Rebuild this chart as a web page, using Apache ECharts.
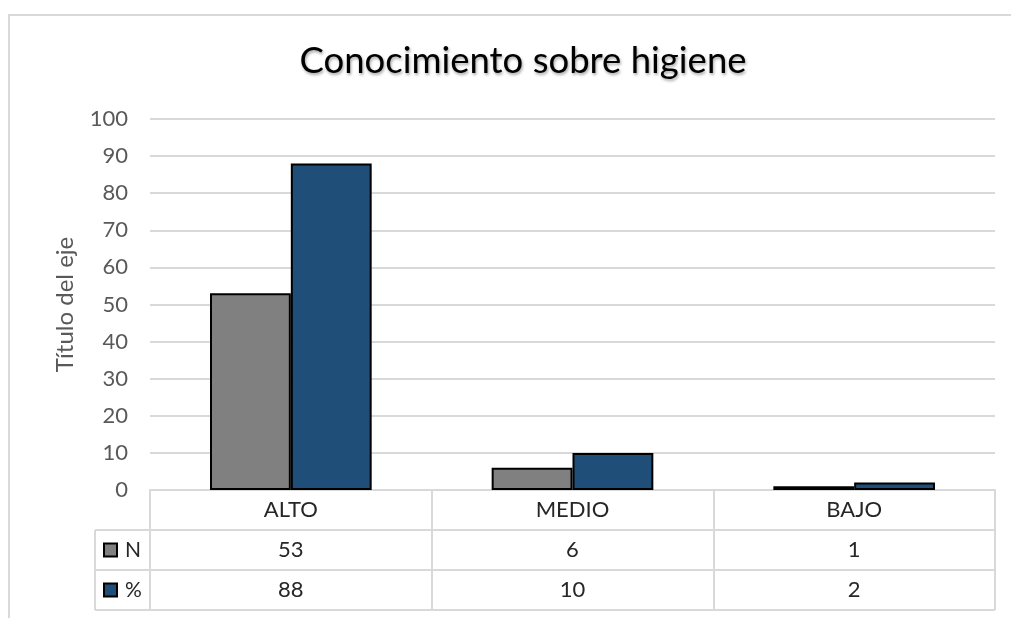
<!DOCTYPE html>
<html>
<head>
<meta charset="utf-8">
<script src="https://cdn.jsdelivr.net/npm/echarts@6/dist/echarts.min.js"></script>
<style>
  html, body { margin: 0; padding: 0; background: #fff; }
  #chart { width: 1011px; height: 618px; }
</style>
</head>
<body>
<div id="chart"></div>
<script>
// Nivel de conocimiento sobre higiene
const categories = ['ALTO', 'MEDIO', 'BAJO'];
const seriesN = [53, 6, 1];
const seriesPct = [88, 10, 2];
const yTicks = { min: 0, max: 100, interval: 10 };

const FONT = 'Lato, "Open Sans", sans-serif';
const GRID = { left: 150, right: 16, top: 119, bottom: 128 };
const ROW_H = 40;
const TABLE_LEFT = 95;
const LINE_COLOR = '#d9d9d9';
const TEXT_COLOR = '#262626';
const AXIS_TEXT = '#595959';

const chart = echarts.init(document.getElementById('chart'), null, { renderer: 'canvas' });

const tableLabel = { color: TEXT_COLOR, fontSize: 22, fontFamily: FONT, margin: 20, verticalAlign: 'middle' };

function tableAxis(data, offset) {
  return {
    type: 'category',
    data: data,
    position: 'bottom',
    offset: offset,
    axisLine: { show: false },
    axisTick: { show: false },
    axisLabel: tableLabel
  };
}

// One legend key per table row, in the row header column
function rowLegend(name, centerY) {
  return {
    data: [name],
    orient: 'horizontal',
    left: 103,
    top: centerY - 11,
    padding: 0,
    itemWidth: 13,
    itemHeight: 13,
    icon: 'rect',
    textStyle: { fontFamily: FONT, fontSize: 21, color: TEXT_COLOR, lineHeight: 22, padding: [0, 0, 0, 3] },
    selectedMode: false
  };
}

const option = {
  backgroundColor: '#fff',
  animation: false,
  title: {
    text: 'Conocimiento sobre higiene',
    left: 518,
    textAlign: 'center',
    top: 38,
    textStyle: {
      fontFamily: FONT, fontSize: 36.5, fontWeight: 'normal', color: '#000',
      textShadowColor: 'rgba(0,0,0,0.35)', textShadowBlur: 3, textShadowOffsetX: 1, textShadowOffsetY: 2
    }
  },
  legend: [
    rowLegend('N', 550),
    rowLegend('%', 590)
  ],
  grid: GRID,
  xAxis: [
    {
      type: 'category',
      data: categories,
      position: 'bottom',
      axisLine: { show: true, lineStyle: { color: LINE_COLOR, width: 2 } },
      axisTick: { show: true, length: ROW_H * 3, alignWithLabel: false, lineStyle: { color: LINE_COLOR, width: 2 } },
      axisLabel: tableLabel
    },
    tableAxis(seriesN.map(String), ROW_H),
    tableAxis(seriesPct.map(String), ROW_H * 2)
  ],
  yAxis: {
    type: 'value',
    min: yTicks.min,
    max: yTicks.max,
    interval: yTicks.interval,
    name: 'Título del eje',
    nameLocation: 'middle',
    nameGap: 73,
    nameTextStyle: { color: AXIS_TEXT, fontSize: 24, fontFamily: FONT },
    axisLine: { show: false },
    axisTick: { show: false },
    axisLabel: { color: AXIS_TEXT, fontSize: 22, fontFamily: FONT, margin: 22 },
    splitLine: { lineStyle: { color: LINE_COLOR, width: 2 } }
  },
  series: [
    {
      name: 'N',
      type: 'bar',
      data: seriesN,
      barGap: '0%',
      barCategoryGap: '42.6%',
      itemStyle: { color: '#808080', borderColor: '#000', borderWidth: 2 }
    },
    {
      name: '%',
      type: 'bar',
      data: seriesPct,
      itemStyle: { color: '#1f4e79', borderColor: '#000', borderWidth: 2 }
    }
  ]
};

chart.setOption(option);

// Outer frame (top and left edges) and the table's row rules and legend column border
function drawTableFrame() {
  const w = chart.getWidth();
  const h = chart.getHeight();
  const base = h - GRID.bottom;
  const right = w - GRID.right;
  const line = (x1, y1, x2, y2) => ({
    type: 'line',
    shape: { x1: x1, y1: y1, x2: x2, y2: y2 },
    style: { stroke: LINE_COLOR, lineWidth: 2 },
    silent: true
  });
  const elements = [line(8, 15, w, 15), line(9, 15, 9, h)];
  for (let r = 1; r <= 3; r++) {
    const y = base + ROW_H * r;
    elements.push(line(TABLE_LEFT, y, right, y));
  }
  elements.push(line(TABLE_LEFT, base + ROW_H, TABLE_LEFT, base + ROW_H * 3));
  chart.setOption({ graphic: { elements: elements } });
}
drawTableFrame();
</script>
</body>
</html>
